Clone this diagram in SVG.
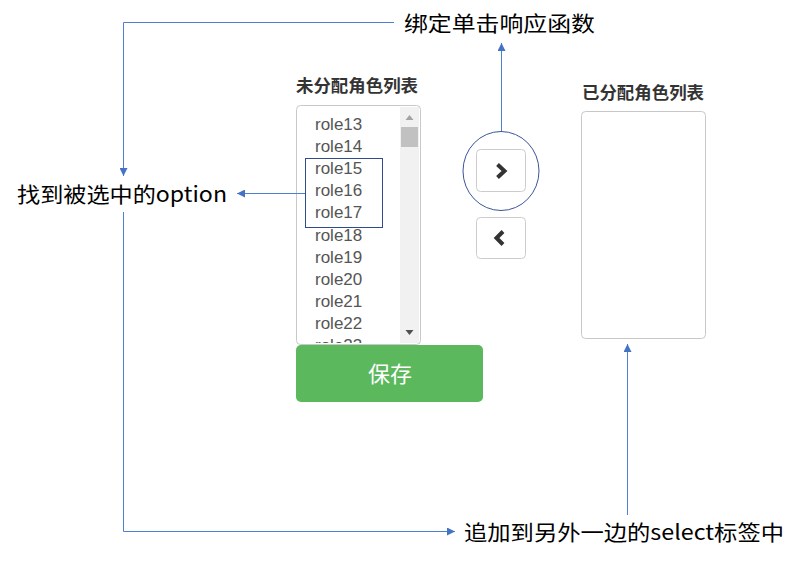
<svg xmlns="http://www.w3.org/2000/svg" width="801" height="561" viewBox="0 0 801 561">
<defs>
<style>
.lbl{font-family:"Noto Sans CJK SC","Liberation Sans",sans-serif;font-size:21px;fill:#000;dominant-baseline:central}
.title{font-family:"Liberation Sans","Noto Sans CJK SC",sans-serif;font-size:16.5px;font-weight:bold;fill:#333;dominant-baseline:central}
.opt{font-family:"Liberation Sans",Arial,sans-serif;font-size:17px;fill:#555}
.box{fill:#fff;stroke:#c8c8c8;stroke-width:1}
.btn{fill:#fff;stroke:#ccc;stroke-width:1}
.conn{fill:none;stroke:#4f7fd0;stroke-width:1}
.chev{fill:none;stroke:#333;stroke-width:4;stroke-linecap:butt;stroke-linejoin:miter}
</style>
<marker id="arr" viewBox="0 0 10 10" refX="10" refY="5" markerWidth="8" markerHeight="8" markerUnits="userSpaceOnUse" orient="auto">
<path d="M0,0 L10,5 L0,10 z" fill="#4472c4"/>
</marker>
<clipPath id="listclip"><rect x="297" y="106" width="102" height="237"/></clipPath>
</defs>

<g id="left-select">
<text class="title" x="296" y="86" textLength="122" lengthAdjust="spacingAndGlyphs">未分配角色列表</text>
<rect class="box" x="296.500" y="105.500" width="124" height="239" rx="4"/>
<rect x="400" y="107" width="19" height="236" fill="#f1f1f1"/>
<rect x="401" y="127" width="17" height="20" fill="#c1c1c1"/>
<path d="M405.500,120 L409.500,115 L413.500,120 z" fill="#a3a3a3"/>
<path d="M405.500,330 L409.500,335 L413.500,330 z" fill="#505050"/>
<g clip-path="url(#listclip)">
<text class="opt" x="315" y="130">role13</text>
<text class="opt" x="315" y="152.100">role14</text>
<text class="opt" x="315" y="174.200">role15</text>
<text class="opt" x="315" y="196.300">role16</text>
<text class="opt" x="315" y="218.400">role17</text>
<text class="opt" x="315" y="240.500">role18</text>
<text class="opt" x="315" y="262.600">role19</text>
<text class="opt" x="315" y="284.700">role20</text>
<text class="opt" x="315" y="306.800">role21</text>
<text class="opt" x="315" y="328.900">role22</text>
<text class="opt" x="315" y="351">role23</text>
</g>
</g>

<g id="selection">
<rect x="305.500" y="158.500" width="77" height="69" fill="none" stroke="#2f4b8c" stroke-width="1"/>
</g>

<g id="save-button">
<rect x="296" y="345" width="187" height="57" rx="5" fill="#5cb85c"/>
<text x="390" y="372" font-family="Noto Sans CJK SC,Liberation Sans,sans-serif" font-size="22" fill="#fff" text-anchor="middle" dominant-baseline="central">保存</text>
</g>

<g id="move-right">
<ellipse cx="501" cy="171" rx="38" ry="39.500" fill="none" stroke="#3b5598" stroke-width="1"/>
<rect class="btn" x="476.500" y="149.500" width="49" height="42" rx="4"/>
<polyline class="chev" points="497.500,164.500 504.500,171 497.500,177.500"/>
</g>

<g id="move-left">
<rect class="btn" x="476.500" y="217.500" width="49" height="41" rx="4"/>
<polyline class="chev" points="503,231.500 496.500,238 503,244.500"/>
</g>

<g id="right-select">
<text class="title" x="582" y="93" textLength="122" lengthAdjust="spacingAndGlyphs">已分配角色列表</text>
<rect class="box" x="581.500" y="111.500" width="124" height="227" rx="4"/>
</g>

<g id="label-bind">
<text class="lbl" x="404" y="22" textLength="191" lengthAdjust="spacingAndGlyphs">绑定单击响应函数</text>
</g>
<g id="label-find">
<text class="lbl" x="17" y="193" textLength="210" lengthAdjust="spacingAndGlyphs">找到被选中的option</text>
</g>
<g id="label-append">
<text class="lbl" x="464" y="531" textLength="320" lengthAdjust="spacingAndGlyphs">追加到另外一边的select标签中</text>
</g>

<g id="connectors">
<polyline class="conn" points="394,22.500 123.500,22.500 123.500,176" marker-end="url(#arr)"/>
<line class="conn" x1="501.500" y1="131" x2="501.500" y2="43" marker-end="url(#arr)"/>
<line class="conn" x1="305" y1="193.500" x2="237" y2="193.500" marker-end="url(#arr)"/>
<polyline class="conn" points="123.500,212 123.500,531.500 455,531.500" marker-end="url(#arr)"/>
<line class="conn" x1="627.500" y1="515" x2="627.500" y2="344" marker-end="url(#arr)"/>
</g>
</svg>
